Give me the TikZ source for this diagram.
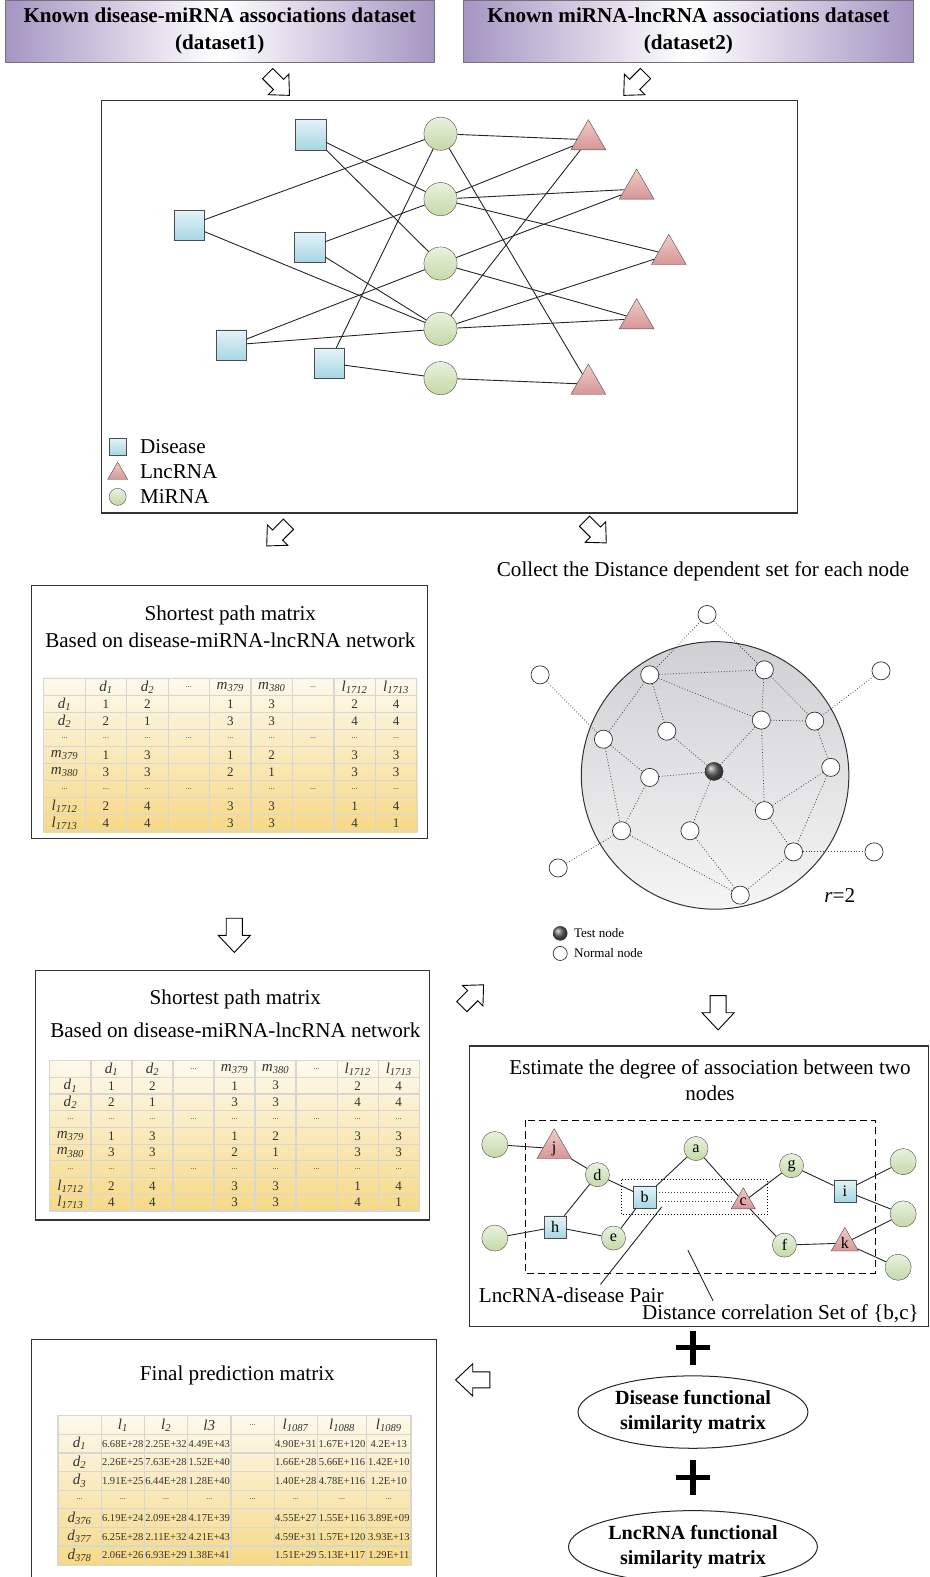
\documentclass[tikz,border=0pt]{standalone}
\usepackage{fontspec}
\setmainfont{Liberation Serif}
\usepackage{tikz}
\usetikzlibrary{shapes.geometric, matrix, backgrounds, positioning}
\definecolor{Hdrpurple}{HTML}{A595C2}
\definecolor{Disblue}{HTML}{A6D6E4}
\definecolor{Disbluelt}{HTML}{E4F3F8}
\definecolor{Migreen}{HTML}{C4D9A8}
\definecolor{Migreenlt}{HTML}{E9F1DE}
\definecolor{Lncpink}{HTML}{D69696}
\definecolor{Lncpinklt}{HTML}{F0CBC8}
\definecolor{Tabcream}{HTML}{FDF9EC}
\definecolor{Tabgold}{HTML}{F6D987}
\definecolor{Tabgrid}{HTML}{D6D6D2}
\definecolor{Zonedark}{HTML}{D0D0D4}
\definecolor{Zonelight}{HTML}{F5F5F5}
\newcommand{\bigfont}{\fontsize{21}{26}\selectfont}
\newcommand{\lbl}[2]{\textit{#1}\textsubscript{\textit{#2}}}
\newcommand{\ellip}{{\fontsize{8}{8}\selectfont ...}}
\tikzstyle{hdrbox} = [
    rectangle, draw=black!55,
    left color=Hdrpurple, right color=Hdrpurple, middle color=white,
    minimum width=427pt, minimum height=62pt,
    align=center, font=\fontsize{21}{27}\selectfont\bfseries
]
\tikzstyle{boxline} = [draw=black!80, line width=1.2pt]
\tikzstyle{disease} = [rectangle, draw=black!70, top color=Disbluelt, bottom color=Disblue, minimum size=30pt, inner sep=0pt]
\tikzstyle{mirna} = [circle, draw=black!70, top color=Migreenlt, bottom color=Migreen, minimum size=33pt, inner sep=0pt]
\tikzstyle{lncrna} = [regular polygon, regular polygon sides=3, draw=black!70, top color=Lncpinklt, bottom color=Lncpink, minimum size=40pt, inner sep=0pt]
\tikzstyle{link} = [draw=black!85, line width=0.9pt]
\tikzstyle{normalnode} = [circle, draw=black!80, fill=white, minimum size=18pt, inner sep=0pt, line width=0.7pt]
\tikzstyle{testnode} = [circle, draw=black!80, ball color=black!60, minimum size=18pt, inner sep=0pt]
\tikzstyle{dotlink} = [dotted, line width=0.8pt, black!75]
\tikzstyle{emirna} = [mirna, minimum size=24pt, font=\fontsize{16}{16}\selectfont]
\tikzstyle{edisease} = [disease, minimum size=22pt, font=\fontsize{16}{16}\selectfont]
\tikzstyle{elncrna} = [lncrna, minimum size=28pt, font=\fontsize{16}{16}\selectfont]
\tikzstyle{spmat} = [
    matrix of nodes, ampersand replacement=\&, nodes in empty cells,
    inner sep=0pt, outer sep=0pt, column sep=-1.2pt, row sep=-1.2pt,
    nodes={draw=Tabgrid, line width=1.2pt, inner sep=0pt, anchor=center,
           font=\fontsize{13}{13}\selectfont, text=black!80},
    row 1/.style={nodes={font=\fontsize{15}{15}\selectfont}},
    column 1/.style={nodes={font=\fontsize{15}{15}\selectfont}}
]
\tikzset{blockarrow/.pic={
    \draw[line width=0.9pt, fill=white, line join=miter]
        (-17,-8) -- (0,-8) -- (0,-16) -- (17,0) -- (0,16) -- (0,8) -- (-17,8) -- cycle;
}}
\newcommand{\spcells}{%
    \& \lbl{d}{1} \& \lbl{d}{2} \& \ellip \& \lbl{m}{379} \& \lbl{m}{380} \& \ellip \& \lbl{l}{1712} \& \lbl{l}{1713} \\
    \lbl{d}{1} \& 1 \& 2 \& \& 1 \& 3 \& \& 2 \& 4 \\
    \lbl{d}{2} \& 2 \& 1 \& \& 3 \& 3 \& \& 4 \& 4 \\
    \ellip \& \ellip \& \ellip \& \ellip \& \ellip \& \ellip \& \ellip \& \ellip \& \ellip \\
    \lbl{m}{379} \& 1 \& 3 \& \& 1 \& 2 \& \& 3 \& 3 \\
    \lbl{m}{380} \& 3 \& 3 \& \& 2 \& 1 \& \& 3 \& 3 \\
    \ellip \& \ellip \& \ellip \& \ellip \& \ellip \& \ellip \& \ellip \& \ellip \& \ellip \\
    \lbl{l}{1712} \& 2 \& 4 \& \& 3 \& 3 \& \& 1 \& 4 \\
    \lbl{l}{1713} \& 4 \& 4 \& \& 3 \& 3 \& \& 4 \& 1 \\
}

\begin{document}
\begin{tikzpicture}[x=1pt, y=-1pt]
    \useasboundingbox (0,0) rectangle (924,1568);
    % Datasets
    \node[hdrbox] (ds1) at (218.5,31) {Known disease-miRNA associations dataset\\(dataset1)};
    \node[hdrbox, minimum width=447pt] (ds2) at (684.5,31) {Known miRNA-lncRNA associations dataset\\(dataset2)};
    \pic[rotate=-45, scale=0.9] at (277,84) {blockarrow};
    \pic[rotate=-135, scale=0.9] at (631,84) {blockarrow};
    % Disease-miRNA-lncRNA network
    \node[boxline, minimum width=692pt, minimum height=410pt] (netbox) at (447,305) {};
    \node[disease] (s1) at (309,134) {};
    \node[disease] (s2) at (188,224) {};
    \node[disease] (s3) at (308,246) {};
    \node[disease] (s4) at (230,343) {};
    \node[disease] (s5) at (327,361) {};
    \node[mirna] (c1) at (438,133) {};
    \node[mirna] (c2) at (438,198) {};
    \node[mirna] (c3) at (438,262) {};
    \node[mirna] (c4) at (438,327) {};
    \node[mirna] (c5) at (438,376) {};
    \node[lncrna] (t1) at (585,139) {};
    \node[lncrna] (t2) at (633,188) {};
    \node[lncrna] (t3) at (665,253) {};
    \node[lncrna] (t4) at (633,317) {};
    \node[lncrna] (t5) at (585,382) {};
    \foreach \u/\v in {s2/c1, s2/c4, s1/c2, s1/c3, s3/c2, s3/c4, s4/c3, s4/c4, s5/c1, s5/c5,
                       c1/t1, c1/t5, c2/t1, c2/t2, c2/t3, c3/t2, c3/t4, c4/t1, c4/t3, c4/t4, c5/t5}
        \draw[link] (\u) -- (\v);
    % Legend
    \node[disease, minimum size=17pt] (lgdis) at (117,444) {};
    \node[lncrna, minimum size=23pt] (lglnc) at (117,471) {};
    \node[mirna, minimum size=17pt] (lgmi) at (117,494) {};
    \node[right=10pt of lgdis, font=\bigfont] (lgdistxt) {Disease};
    \node[font=\bigfont, anchor=west] (lglnctxt) at (lgdistxt.west |- 0,469) {LncRNA};
    \node[font=\bigfont, anchor=west] (lgmitxt) at (lgdistxt.west |- 0,494) {MiRNA};
    \pic[rotate=-135, scale=0.9] at (276,532) {blockarrow};
    \pic[rotate=-45, scale=0.9] at (592,529) {blockarrow};
    % First shortest path matrix
    \draw[boxline] (31.5,582) rectangle (425,834);
    \node[font=\bigfont] (sp1a) at (229,612) {Shortest path matrix};
    \node[font=\bigfont] (sp1b) at (229,637) {Based on disease-miRNA-lncRNA network};
    \matrix (spm1) [spmat, anchor=north west, nodes={minimum width=41.2pt, minimum height=16.9pt}] at (43,674) {\spcells};
    \begin{scope}[on background layer]
        \shade[top color=Tabcream, bottom color=Tabgold] (spm1.north west) rectangle (spm1.south east);
    \end{scope}
    % Distance dependent set
    \node[font=\bigfont] (collecttxt) at (699,568) {Collect the Distance dependent set for each node};
    \node[circle, draw=black!80, line width=1pt, minimum size=266pt, top color=Zonedark, bottom color=Zonelight] (zone) at (711,771) {};
    \node[normalnode] (qtop) at (703,611) {};
    \node[normalnode] (qol) at (537,671) {};
    \node[normalnode] (qor) at (876,667) {};
    \node[normalnode] (qa) at (646,671) {};
    \node[normalnode] (qb) at (760,666) {};
    \node[normalnode] (qc) at (757,716) {};
    \node[normalnode] (qd) at (810,717) {};
    \node[normalnode] (qe) at (663,727) {};
    \node[normalnode] (qf) at (600,735) {};
    \node[normalnode] (qg) at (826,763) {};
    \node[testnode] (qt) at (710,767) {};
    \node[normalnode] (qh) at (646,773) {};
    \node[normalnode] (qi) at (760,806) {};
    \node[normalnode] (qj) at (618,826) {};
    \node[normalnode] (qk) at (686,826) {};
    \node[normalnode] (ql) at (789,847) {};
    \node[normalnode] (qobr) at (869,847) {};
    \node[normalnode] (qobl) at (555,863) {};
    \node[normalnode] (qm) at (736,890) {};
    \foreach \u/\v in {qtop/qa, qtop/qb, qol/qf, qor/qd, qa/qb, qa/qc, qa/qe, qa/qf, qb/qc, qb/qd,
                       qc/qd, qc/qt, qc/qi, qe/qt, qf/qh, qf/qj, qh/qt, qh/qj, qd/qg, qg/qi, qg/ql,
                       qt/qk, qt/qi, qi/ql, qj/qm, qk/qm, ql/qm, ql/qobr, qj/qobl}
        \draw[dotlink] (\u) -- (\v);
    \node[font=\bigfont] (radius) at (835,890) {\textit{r}=2};
    \node[testnode, minimum size=14pt] (lgtest) at (557,928) {};
    \node[normalnode, minimum size=14pt] (lgnorm) at (557,948) {};
    \node[right=3pt of lgtest, font=\fontsize{13}{13}\selectfont] (lgtesttxt) {Test node};
    \node[right=3pt of lgnorm, font=\fontsize{13}{13}\selectfont] (lgnormtxt) {Normal node};
    \pic[rotate=-90] at (233,930) {blockarrow};
    \pic[rotate=45, scale=0.9] at (470,990) {blockarrow};
    \pic[rotate=-90] at (714,1007) {blockarrow};
    % Second shortest path matrix
    \draw[boxline] (35,965) rectangle (427,1213);
    \node[font=\bigfont] (sp2a) at (234,994) {Shortest path matrix};
    \node[font=\bigfont] (sp2b) at (234,1024) {Based on disease-miRNA-lncRNA network};
    \matrix (spm2) [spmat, anchor=north west, nodes={minimum width=40.8pt, minimum height=16.6pt}] at (49,1054) {\spcells};
    \begin{scope}[on background layer]
        \shade[top color=Tabcream, bottom color=Tabgold] (spm2.north west) rectangle (spm2.south east);
    \end{scope}
    % Degree of association
    \draw[boxline] (467,1319) -- (467,1040) -- (923,1040) -- (923,1319) -- cycle;
    \node[font=\bigfont, align=center] (esttitle) at (706,1074) {Estimate the degree of association between two\\nodes};
    \draw[dashed, line width=1pt, dash pattern=on 7pt off 4pt] (522,1114) rectangle (870,1266);
    \draw[dotted, line width=1pt] (618,1173) rectangle (763.5,1208);
    \node[emirna, minimum size=26pt] (lg1) at (492,1138) {};
    \node[emirna, minimum size=26pt] (lg2) at (492,1231) {};
    \node[elncrna] (ej) at (551,1142) {j};
    \node[emirna] (ed) at (594,1168) {d};
    \node[edisease] (eh) at (552,1220) {h};
    \node[emirna] (ee) at (610,1231) {e};
    \node[edisease] (eb) at (641,1190) {b};
    \node[emirna] (ea) at (692,1142) {a};
    \node[elncrna] (ec) at (739,1195) {c};
    \node[emirna] (eg) at (787,1159) {g};
    \node[emirna] (ef) at (780,1238) {f};
    \node[edisease] (ei) at (840,1184) {i};
    \node[elncrna] (ek) at (840,1236) {k};
    \node[emirna, minimum size=26pt] (rg1) at (898,1155) {};
    \node[emirna, minimum size=26pt] (rg2) at (898,1207) {};
    \node[emirna, minimum size=26pt] (rg3) at (893,1260) {};
    \foreach \u/\v in {lg1/ej, ej/ed, ed/eb, ed/eh, lg2/eh, eh/ee, ee/eb, eb/ea, ea/ec,
                       ec/eg, ec/ef, eg/ei, ei/rg1, ei/rg2, ef/ek, ek/rg2, ek/rg3}
        \draw[link] (\u) -- (\v);
    \draw[dotlink, line width=1pt] ([yshift=4pt]eb.east) -- ([yshift=9pt, xshift=-8pt]ec.center);
    \draw[dotlink, line width=1pt] ([yshift=-5pt]eb.east) -- ([xshift=-10pt]ec.center);
    \node[font=\bigfont] (pairlbl) at (568,1288) {LncRNA-disease Pair};
    \coordinate (pairpt) at (658,1200);
    \draw[link] (pairpt) -- ([xshift=29pt]pairlbl.north);
    \node[font=\bigfont] (setlbl) at (776,1306) {Distance correlation Set of \{b,c\}};
    \coordinate (setpt) at (684,1243);
    \draw[link] (setpt) -- ([xshift=-67pt]setlbl.north);
    % Similarity matrices
    \draw[line width=5.5pt] (672,1340) -- (706,1340) (689,1323) -- (689,1357);
    \node[ellipse, draw=black!85, line width=1pt, minimum width=206pt, minimum height=72pt, align=center,
          font=\fontsize{20}{25}\selectfont\bfseries] (disfun) at (689,1404) {Disease functional\\similarity matrix};
    \draw[line width=5.5pt] (672,1469) -- (706,1469) (689,1452) -- (689,1486);
    \node[ellipse, draw=black!85, line width=1pt, minimum width=206pt, minimum height=72pt, align=center,
          font=\fontsize{20}{25}\selectfont\bfseries] (lncfun) at (689,1538) {LncRNA functional\\similarity matrix};
    \pic[rotate=180] at (470,1372) {blockarrow};
    % Final prediction matrix
    \draw[boxline] (31.5,1570) -- (31.5,1332) -- (434,1332) -- (434,1570);
    \node[font=\bigfont] (finaltitle) at (236,1368) {Final prediction matrix};
    \matrix (fpm) [spmat, anchor=north west,
        nodes={minimum width=43pt, minimum height=18.5pt, font=\fontsize{10.5}{10.5}\selectfont},
        row 1/.style={nodes={font=\fontsize{15}{15}\selectfont}},
        column 1/.style={nodes={font=\fontsize{15}{15}\selectfont}},
        column 7/.style={nodes={minimum width=49pt}},
        column 8/.style={nodes={minimum width=44pt}}] at (57,1407) {
        \& \lbl{l}{1} \& \lbl{l}{2} \& \textit{l3} \& \ellip \& \lbl{l}{1087} \& \lbl{l}{1088} \& \lbl{l}{1089} \\
        \lbl{d}{1} \& 6.68E+28 \& 2.25E+32 \& 4.49E+43 \& \& 4.90E+31 \& 1.67E+120 \& 4.2E+13 \\
        \lbl{d}{2} \& 2.26E+25 \& 7.63E+28 \& 1.52E+40 \& \& 1.66E+28 \& 5.66E+116 \& 1.42E+10 \\
        \lbl{d}{3} \& 1.91E+25 \& 6.44E+28 \& 1.28E+40 \& \& 1.40E+28 \& 4.78E+116 \& 1.2E+10 \\
        \ellip \& \ellip \& \ellip \& \ellip \& \ellip \& \ellip \& \ellip \& \ellip \\
        \lbl{d}{376} \& 6.19E+24 \& 2.09E+28 \& 4.17E+39 \& \& 4.55E+27 \& 1.55E+116 \& 3.89E+09 \\
        \lbl{d}{377} \& 6.25E+28 \& 2.11E+32 \& 4.21E+43 \& \& 4.59E+31 \& 1.57E+120 \& 3.93E+13 \\
        \lbl{d}{378} \& 2.06E+26 \& 6.93E+29 \& 1.38E+41 \& \& 1.51E+29 \& 5.13E+117 \& 1.29E+11 \\
    };
    \begin{scope}[on background layer]
        \shade[top color=Tabcream, bottom color=Tabgold] (fpm.north west) rectangle (fpm.south east);
    \end{scope}
\end{tikzpicture}
\end{document}
